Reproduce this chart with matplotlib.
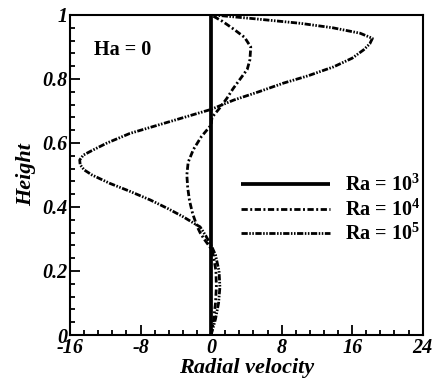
import matplotlib
matplotlib.use("Agg")
import matplotlib.pyplot as plt
from matplotlib.ticker import MultipleLocator, FixedLocator

plt.rcParams['font.family'] = ['Liberation Serif', 'DejaVu Serif']
plt.rcParams['mathtext.fontset'] = 'custom'
plt.rcParams['mathtext.rm'] = 'Liberation Serif:bold'
plt.rcParams['mathtext.bf'] = 'Liberation Serif:bold'
plt.rcParams['mathtext.it'] = 'Liberation Serif:bold:italic'
plt.rcParams['lines.scale_dashes'] = False

# ---- data ----
height_ra3 = [0.0, 0.25, 0.5, 0.75, 1.0]
vel_ra3 = [0.0, 0.0, 0.0, 0.0, 0.0]

height_ra4 = [0.0, 0.05, 0.10, 0.15, 0.20, 0.25, 0.27, 0.30, 0.32, 0.34, 0.38, 0.42,
              0.46, 0.50, 0.54, 0.58, 0.62, 0.656, 0.68, 0.71, 0.74, 0.77, 0.80,
              0.83, 0.86, 0.90, 0.93, 0.955, 0.98, 1.0]
vel_ra4 = [0.0, 0.3, 0.5, 0.6, 0.55, 0.25, 0.0, -0.8, -1.25, -1.6, -2.1, -2.45,
           -2.65, -2.75, -2.6, -2.0, -1.1, 0.0, 0.1, 1.0, 1.8, 2.5, 3.3,
           4.1, 4.4, 4.5, 3.8, 2.6, 1.3, 0.0]

height_ra5 = [0.0, 0.05, 0.10, 0.15, 0.20, 0.25, 0.276, 0.31, 0.338, 0.35, 0.37, 0.395,
              0.422, 0.45, 0.474, 0.50, 0.516, 0.532, 0.547, 0.562, 0.578, 0.60, 0.63,
              0.667, 0.705, 0.734, 0.76, 0.787, 0.81, 0.838, 0.865, 0.891, 0.91, 0.927,
              0.943, 0.96, 0.974, 0.988, 1.0]
vel_ra5 = [0.0, 0.5, 0.85, 1.0, 0.9, 0.5, 0.08, -0.6, -1.25, -2.0, -3.2, -4.9,
           -6.9, -9.3, -11.5, -13.5, -14.4, -14.85, -14.9, -14.5, -13.4, -11.8, -9.2,
           -4.66, 0.0, 2.56, 5.4, 8.2, 11.0, 13.9, 16.0, 17.3, 18.0, 18.3,
           16.9, 13.8, 10.1, 5.0, 0.3]

labels = [r'Ra = 10$^{\mathregular{3}}$', r'Ra = 10$^{\mathregular{4}}$', r'Ra = 10$^{\mathregular{5}}$']
x_ticks = [-16, -8, 0, 8, 16, 24]
y_ticks = [0, 0.2, 0.4, 0.6, 0.8, 1]
y_tick_labels = ['0', '0.2', '0.4', '0.6', '0.8', '1']

fig = plt.figure(figsize=(4.33, 3.84), dpi=100)
ax = fig.add_axes([0.1617, 0.1276, 0.8145, 0.8334])

ax.plot(vel_ra3, height_ra3, color='black', lw=2.7, solid_capstyle='butt', label=labels[0])
ax.plot(vel_ra4, height_ra4, color='black', lw=2.0, linestyle=(0, (4.5, 1.8, 1.4, 1.8)), label=labels[1])
ax.plot(vel_ra5, height_ra5, color='black', lw=2.0,
        linestyle=(0, (4.5, 1.1, 1.1, 1.1, 1.1, 1.1)), label=labels[2])

ax.set_xlim(-16, 24)
ax.set_ylim(0, 1)
ax.xaxis.set_major_locator(FixedLocator(x_ticks))
ax.xaxis.set_minor_locator(MultipleLocator(1.6))
ax.yaxis.set_major_locator(FixedLocator(y_ticks))
ax.set_yticklabels(y_tick_labels)
ax.yaxis.set_minor_locator(MultipleLocator(0.04))
ax.set_xticklabels([str(t) for t in x_ticks])

ax.tick_params(which='both', direction='in', top=False, right=False, width=1.3)
ax.tick_params(which='major', length=7, labelsize=14.5, pad=2)
ax.tick_params(which='minor', length=3.5)
for lab in ax.get_xticklabels() + ax.get_yticklabels():
    lab.set_fontweight('bold')
    lab.set_fontstyle('italic')
for sp in ax.spines.values():
    sp.set_linewidth(1.5)

ax.set_xlabel('Radial velocity', fontsize=16, fontweight='bold', fontstyle='italic', labelpad=0)
ax.set_ylabel('Height', fontsize=16, fontweight='bold', fontstyle='italic', labelpad=4)

ax.text(0.068, 0.892, 'Ha = 0', transform=ax.transAxes, fontsize=14.5, fontweight='bold',
        va='center', ha='left')

leg = ax.legend(loc='upper left', bbox_to_anchor=(0.486, 0.50), frameon=False,
                prop={'size': 14.5, 'weight': 'bold'}, handlelength=4.4, handletextpad=0.75,
                labelspacing=0.16, borderaxespad=0, borderpad=0)

fig.savefig('out.png', dpi=100)
